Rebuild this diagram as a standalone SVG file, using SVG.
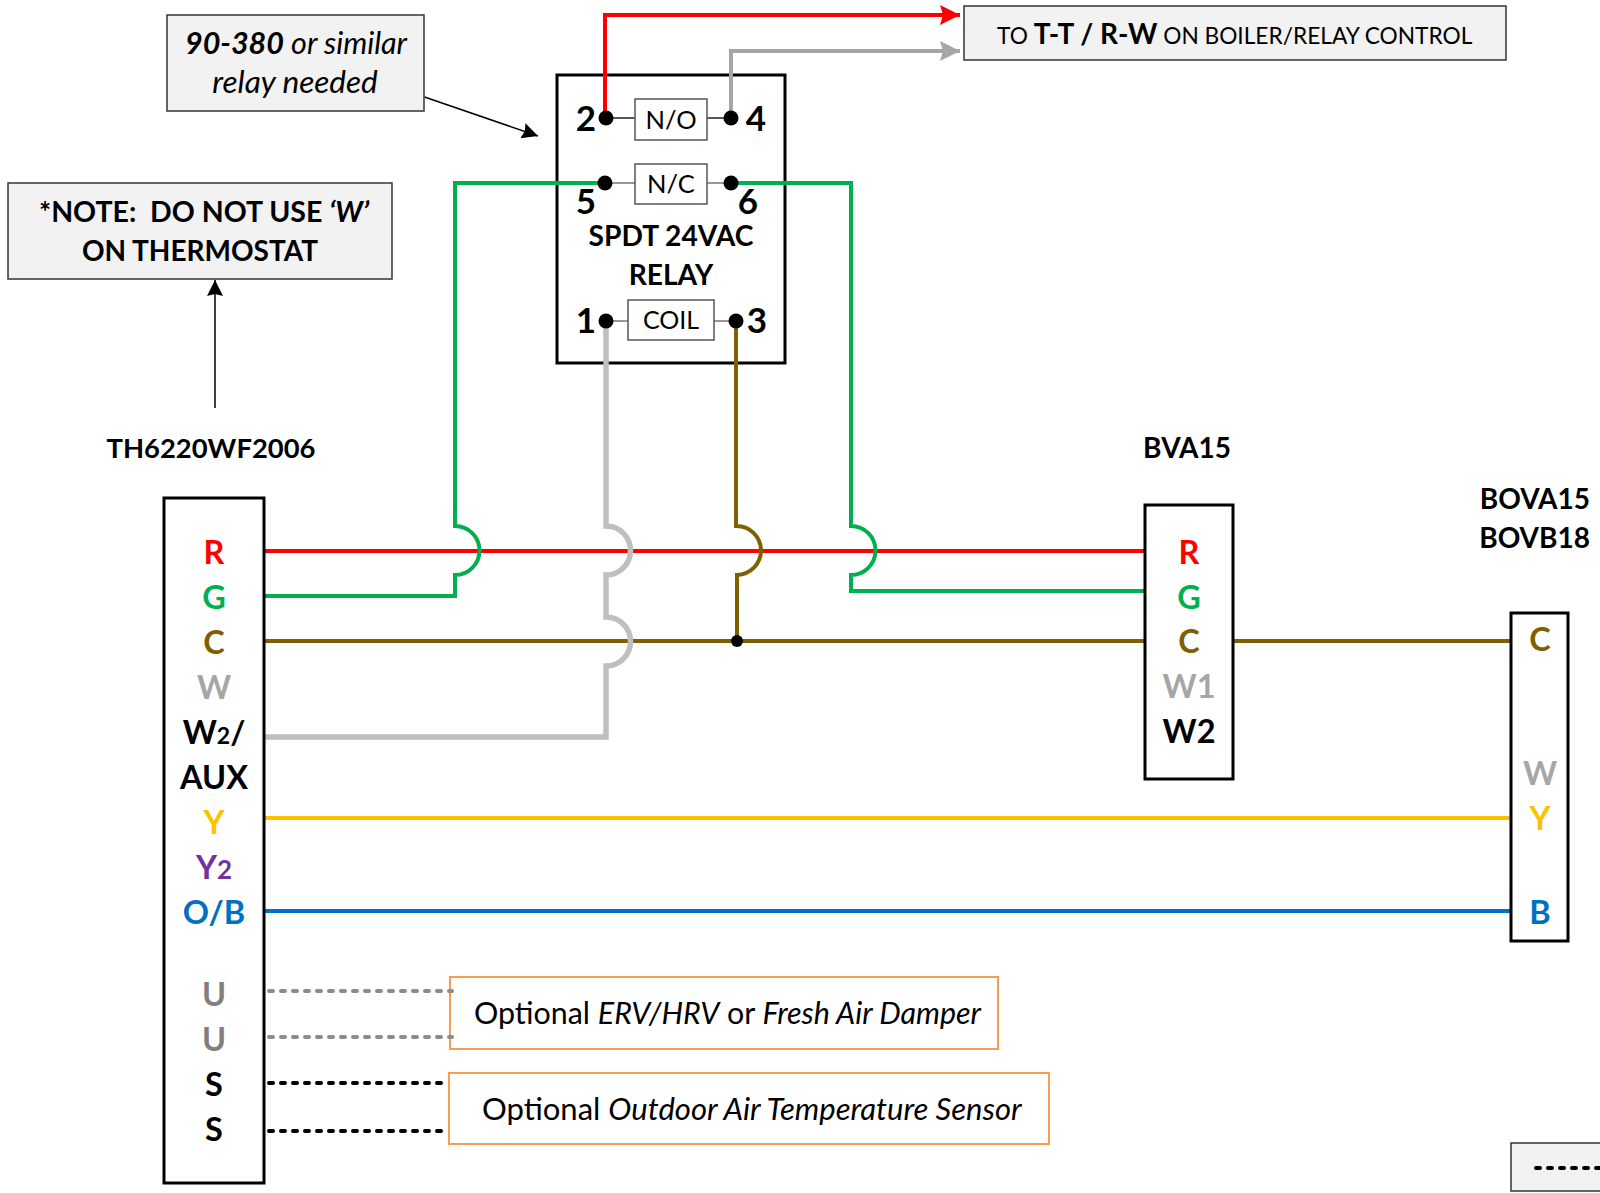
<svg xmlns="http://www.w3.org/2000/svg" width="1600" height="1193" viewBox="0 0 1600 1193">
<style>
text{font-family:Lato,"Liberation Sans",sans-serif;fill:#000}
.b{font-weight:700}.i{font-style:italic}
.m{text-anchor:middle}
.t{font-size:32.500px;font-weight:700;text-anchor:middle;stroke-width:.5px}
.n{font-size:35px;font-weight:700;text-anchor:middle}
.h{font-size:28px;font-weight:700}
.box{fill:#fff;stroke:#000;stroke-width:3}
.note{fill:#f2f2f2;stroke:#333;stroke-width:1.5}
.sm{fill:#fff;stroke:#555;stroke-width:1.5}
.op{fill:#fff;stroke:#f79d52;stroke-width:2}
.w{fill:none;stroke-width:4}
.dot{fill:#000}
.r{stroke:#f00}.g{stroke:#00b050}.br{stroke:#7f6000}.gr{stroke:#bfbfbf;stroke-width:5.500px}.y{stroke:#ffc000}.bl{stroke:#0070c0}
.da{stroke:#a6a6a6}
.d1{stroke:#8c8c8c;stroke-width:4;stroke-linecap:round;stroke-dasharray:4 8;fill:none}
.d2{stroke:#000;stroke-width:4;stroke-linecap:round;stroke-dasharray:4 8;fill:none}
</style>
<defs>
<marker id="ar" markerUnits="userSpaceOnUse" markerWidth="22" markerHeight="22" refX="20" refY="11" orient="auto"><path d="M0 1L20 11L0 21L3 11Z" fill="#f00"/></marker>
<marker id="ag" markerUnits="userSpaceOnUse" markerWidth="22" markerHeight="22" refX="20" refY="11" orient="auto"><path d="M0 1L20 11L0 21L3 11Z" fill="#a6a6a6"/></marker>
<marker id="ak" markerUnits="userSpaceOnUse" markerWidth="18" markerHeight="18" refX="16" refY="9" orient="auto"><path d="M0 1L16 9L0 17L2 9Z" fill="#000"/></marker>
</defs>

<g id="relay">
<rect class="box" x="557" y="75" width="228" height="288"/>
<path d="M606 118H635M707 118H731" stroke="#222" stroke-width="1.5"/>
<path d="M605 183H635M707 183H731M606 321H628M714 321H736" stroke="#777" stroke-width="1.5"/>
<rect class="sm" x="635" y="99" width="72" height="41"/>
<rect class="sm" x="635" y="164" width="72" height="40"/>
<rect class="sm" x="628" y="300" width="86" height="40"/>
<text class="m" x="671" y="129" font-size="25.500">N/O</text>
<text class="m" x="671" y="193" font-size="25.500">N/C</text>
<text class="m" x="671" y="329" font-size="25">COIL</text>
<text class="n" x="586" y="131">2</text><text class="n" x="756" y="131">4</text>
<text class="n" x="586" y="214">5</text><text class="n" x="748" y="214">6</text>
<text class="n" x="586" y="333">1</text><text class="n" x="757" y="333">3</text>
<text class="b m" x="671" y="246" font-size="28.200">SPDT 24VAC</text>
<text class="b m" x="671" y="285" font-size="28.200">RELAY</text>
</g>

<g id="connectors">
<path class="w r" d="M605 118V15H960" marker-end="url(#ar)"/>
<path class="w da" d="M731 118V51H960" marker-end="url(#ag)"/>
<path class="w r" d="M265 551H1145"/>
<path class="w br" d="M265 641H1145M1233 641H1511"/>
<path class="w y" d="M265 818H1511"/>
<path class="w bl" d="M265 911H1511"/>
<path class="w g" d="M605 183H455V526A24.500 24.500 0 0 1 455 575V596H265"/>
<path class="w g" d="M731 183H851V526A24.500 24.500 0 0 1 851 575V591H1145"/>
<path class="w gr" d="M606 321V526A24.500 24.500 0 0 1 606 575V617A24.500 24.500 0 0 1 606 666V737H265"/>
<path class="w br" d="M736 321V526A24.500 24.500 0 0 1 737 575V641"/>
<circle class="dot" cx="737" cy="641" r="6"/>
<path d="M424.500 97L538 136" stroke="#000" stroke-width="1.500" fill="none" marker-end="url(#ak)"/>
<path d="M215 408V280" stroke="#000" stroke-width="1.500" fill="none" marker-end="url(#ak)"/>
</g>

<g id="relay-terminals">
<circle class="dot" cx="606" cy="118" r="7.500"/><circle class="dot" cx="731" cy="118" r="7.500"/>
<circle class="dot" cx="605" cy="183" r="7.500"/><circle class="dot" cx="731" cy="183" r="7.500"/>
<circle class="dot" cx="606" cy="321" r="7.500"/><circle class="dot" cx="736" cy="321" r="7.500"/>
</g>

<g id="note-relay">
<rect class="note" x="167" y="15" width="257" height="96"/>
<text class="i m" x="296" y="54" font-size="30.500"><tspan class="b">90-380</tspan> or similar</text>
<text class="i m" x="295" y="93" font-size="31.500">relay needed</text>
</g>
<g id="note-w">
<rect class="note" x="8" y="183" width="384" height="96"/>
<text class="b m" x="204" y="222" font-size="28.500" xml:space="preserve">*NOTE:  DO NOT USE <tspan class="i">‘W’</tspan></text>
<text class="b m" x="200" y="261" font-size="28">ON THERMOSTAT</text>
</g>
<g id="note-control">
<rect class="note" x="964" y="6" width="542" height="54"/>
<text x="997" y="44" font-size="22.700">TO <tspan class="b" font-size="28">T-T / R-W</tspan> ON BOILER/RELAY CONTROL</text>
</g>

<g id="thermostat">
<text class="h m" x="211" y="458" font-size="27.400" style="font-size:27.400px">TH6220WF2006</text>
<rect class="box" x="164" y="498" width="100" height="685"/>
<text class="t" x="214" y="564" style="fill:#f00">R</text>
<text class="t" x="214" y="609" style="fill:#00b050">G</text>
<text class="t" x="214" y="654" style="fill:#7f6000">C</text>
<text class="t" x="214" y="699" style="fill:#a6a6a6">W</text>
<text class="t" x="214" y="744">W<tspan font-size="23">2</tspan>/</text>
<text class="t" x="214" y="789">AUX</text>
<text class="t" x="214" y="834" style="fill:#ffc000">Y</text>
<text class="t" x="214" y="879" style="fill:#7030a0">Y<tspan font-size="26" style="fill:#7030a0">2</tspan></text>
<text class="t" x="214" y="924" style="fill:#0070c0">O/B</text>
<text class="t" x="214" y="1006" style="fill:#7f7f7f">U</text>
<text class="t" x="214" y="1051" style="fill:#7f7f7f">U</text>
<text class="t" x="214" y="1096">S</text>
<text class="t" x="214" y="1141">S</text>
</g>

<g id="bva15">
<text class="h m" x="1187" y="458">BVA15</text>
<rect class="box" x="1145" y="505" width="88" height="274"/>
<text class="t" x="1189" y="564" style="fill:#f00">R</text>
<text class="t" x="1189" y="609" style="fill:#00b050">G</text>
<text class="t" x="1189" y="653" style="fill:#7f6000">C</text>
<text class="t" x="1189" y="698" style="fill:#a6a6a6">W1</text>
<text class="t" x="1189" y="743">W2</text>
</g>

<g id="bova15">
<text class="h" x="1590" y="509" text-anchor="end">BOVA15</text>
<text class="h" x="1590" y="548" text-anchor="end">BOVB18</text>
<rect class="box" x="1511" y="613" width="57" height="328"/>
<text class="t" x="1540" y="651" style="fill:#7f6000">C</text>
<text class="t" x="1540" y="785" style="fill:#a6a6a6">W</text>
<text class="t" x="1540" y="830" style="fill:#ffc000">Y</text>
<text class="t" x="1540" y="924" style="fill:#0070c0">B</text>
</g>

<g id="optional-erv">
<rect class="op" x="450" y="977" width="548" height="72"/>
<text x="474" y="1024" font-size="30.400">Optional <tspan class="i">ERV/HRV</tspan> or <tspan class="i">Fresh Air Damper</tspan></text>
</g>
<g id="optional-sensor">
<rect class="op" x="449" y="1073" width="600" height="71"/>
<text x="482" y="1120" font-size="31">Optional <tspan class="i">Outdoor Air Temperature Sensor</tspan></text>
</g>
<g id="legend">
<rect class="note" x="1511" y="1143" width="95" height="48"/>
<path d="M1536 1168H1600" stroke="#000" stroke-width="4" stroke-linecap="round" stroke-dasharray="4 8" fill="none"/>
</g>
<g id="optional-wires">
<path class="d1" d="M269 991H452M269 1037H452"/>
<path class="d2" d="M269 1083H443M269 1131H443"/>
</g>
</svg>
